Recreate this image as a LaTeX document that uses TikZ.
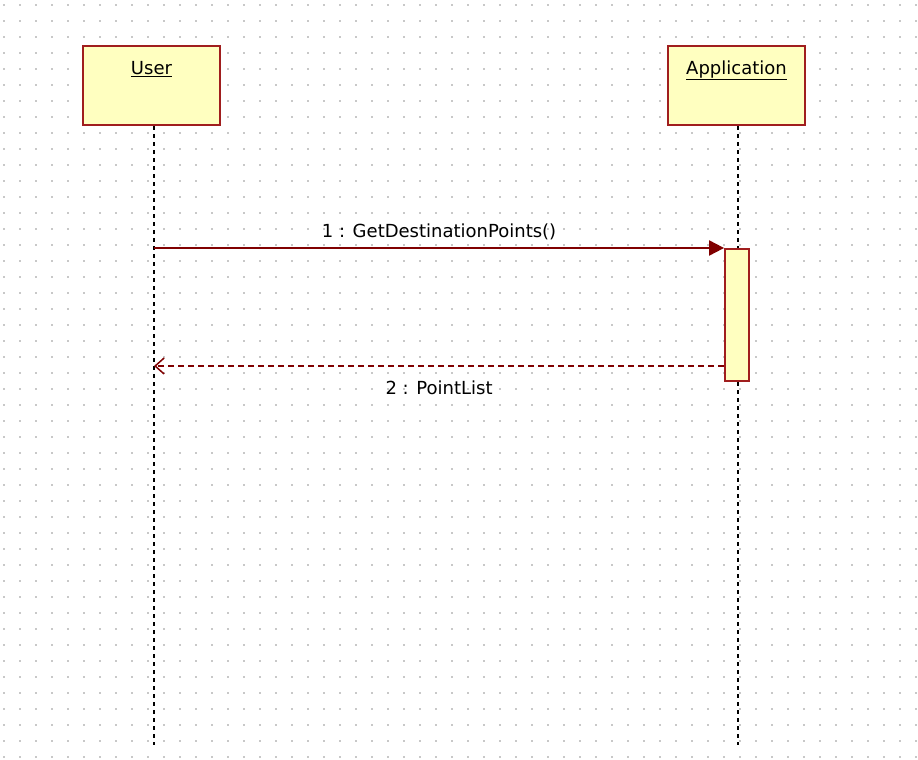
\documentclass[tikz,border=0pt]{standalone}
\usepackage{fontspec}
\setmainfont{DejaVu Sans}
\usetikzlibrary{arrows.meta,positioning,calc}

\definecolor{umlborder}{RGB}{160,30,30}
\definecolor{umlfill}{RGB}{255,255,192}
\definecolor{umlarrow}{RGB}{128,0,0}
\definecolor{griddot}{RGB}{200,200,200}

\begin{document}
\begin{tikzpicture}[x=1pt, y=-1pt, font=\fontsize{18}{21}\selectfont]
\tikzstyle{actor} = [rectangle, draw=umlborder, fill=umlfill, line width=2.2pt, minimum width=137pt, inner xsep=0pt, inner ysep=0pt, text height=28pt, text depth=51pt, anchor=north]
\tikzstyle{activation} = [rectangle, draw=umlborder, fill=umlfill, line width=1.8pt, minimum width=24pt, minimum height=132pt, anchor=north, inner sep=0pt]
\tikzstyle{lifeline} = [draw, line width=1.7pt, dash pattern=on 4pt off 4pt]
\tikzstyle{call} = [draw=umlarrow, line width=2pt, -{Triangle[length=15pt,width=15pt]}]
\tikzstyle{reply} = [draw=umlarrow, line width=1.6pt, dash pattern=on 6pt off 4pt, -{Straight Barb[length=9pt,width=16pt,line width=1.5pt]}]

% Background and dot grid
\fill[white] (0,0) rectangle (918,760);
\useasboundingbox (0,0) rectangle (918,760);
\foreach \i in {0,...,57} {
  \foreach \j in {0,...,47} {
    \fill[griddot] ($(4+16*\i,5+16*\j)+(-1,-1)$) rectangle ++(2,2);
  }
}

% Lifeline heads
\node [actor] (user) at (151.5,45) {\underline{User}};
\node [actor] (application) at (736.5,45) {\underline{Application}};

\coordinate (bottom) at (0,745);
\coordinate (userline) at ($(user.south)+(2.5,0)$);
\coordinate (appline) at ($(application.south)+(1.5,0)$);

% Lifelines
\draw [lifeline] (userline) -- (userline |- bottom);
\draw [lifeline] (appline) -- (appline |- bottom);

% Activation
\node [activation] (act) at ($(appline |- 0,248)+(-1,0)$) {};
\coordinate (ret) at (act.west |- 0,366);

% Messages
\draw [call] (userline |- act.north) -- node[above=4pt] (msg1) {1 : GetDestinationPoints()} (act.north west);
\draw [reply] (ret) -- node[below=11pt] (msg2) {2 : PointList} (userline |- ret);

\end{tikzpicture}
\end{document}
